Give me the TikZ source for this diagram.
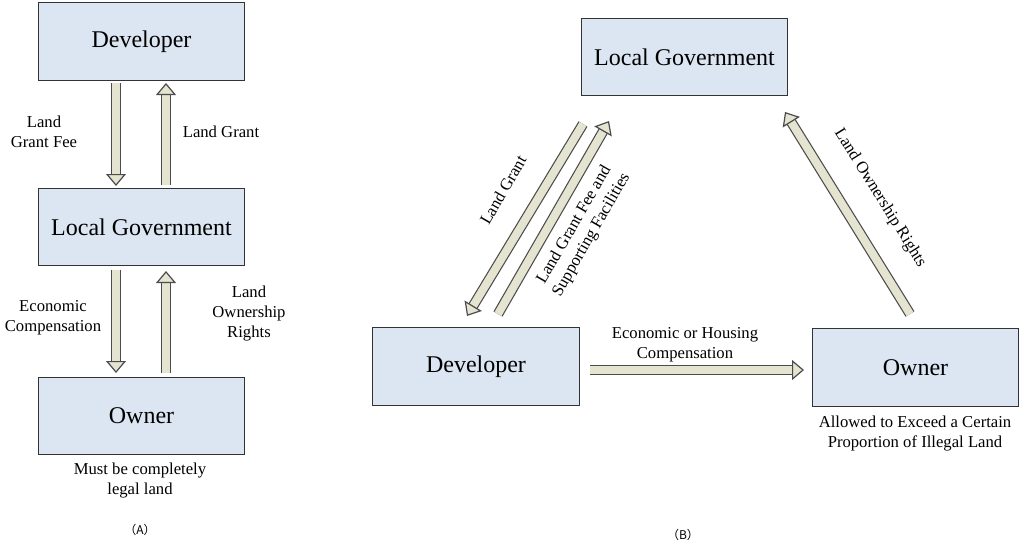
\documentclass[tikz,border=0pt]{standalone}
\usepackage{fontspec}
\setmainfont{Liberation Serif}
\newfontfamily\cjk{Noto Sans CJK SC}
\usetikzlibrary{arrows.meta}
\definecolor{boxfill}{RGB}{220,230,242}
\definecolor{arrfill}{RGB}{228,228,208}
\tikzset{every picture/.style={line width=0.75pt}}
\tikzset{
  box/.style={draw=black!80, fill=boxfill, minimum width=155pt, minimum height=58pt, font=\fontsize{18}{21}\selectfont},
  blk/.style={draw=black!70, double=arrfill, double distance=6pt, line width=0.9pt,
    -{Triangle[open, width=15pt, length=9pt, fill=arrfill]}},
  lbl/.style={font=\fontsize{12.5}{15}\selectfont, align=center, inner sep=0.75pt}
}
\begin{document}
\begin{tikzpicture}[x=0.75pt,y=0.75pt,yscale=-1,xscale=1]
\useasboundingbox (0,0) rectangle (1024,546);

% (A)
\node [box] (devA) at (141.5,41.5) {Developer};
\node [box] (govA) at (141.5,227) {Local Government};
\node [box] (ownA) at (141.5,416) {Owner};
\coordinate (a1) at (116,83);  \coordinate (a2) at (116,186);
\coordinate (a3) at (166,185); \coordinate (a4) at (166,83);
\coordinate (a5) at (116,270); \coordinate (a6) at (116,373);
\coordinate (a7) at (166,373); \coordinate (a8) at (166,271);
\draw [blk] (a1) -- (a2);
\draw [blk] (a3) -- (a4);
\draw [blk] (a5) -- (a6);
\draw [blk] (a7) -- (a8);
\node [lbl] (lgf) at (44,132) {Land\\Grant Fee};
\node [lbl] (lg) at (221,132) {Land Grant};
\node [lbl] (ec) at (53,318) {Economic\\Compensation};
\node [lbl] (lor) at (249,314) {Land\\Ownership\\Rights};
\node [lbl] (capA) at (140,481) {Must be completely\\legal land};
\node [lbl, font=\cjk\small] (tagA) at (140,530) {（A）};

% (B)
\node [box] (govB) at (684.5,57) {Local Government};
\node [box] (devB) at (476,366.5) {Developer};
\node [box] (ownB) at (915.5,367.5) {Owner};
\coordinate (b1) at (583,124); \coordinate (b2) at (467,316);
\coordinate (b3) at (498,314); \coordinate (b4) at (609,121);
\coordinate (b5) at (910,314); \coordinate (b6) at (785,112);
\coordinate (b7) at (590,370); \coordinate (b8) at (804,370);
\draw [blk] (b1) -- (b2);
\draw [blk] (b3) -- (b4);
\draw [blk] (b5) -- (b6);
\draw [blk] (b7) -- (b8);
\node [lbl, rotate=60] (lgB) at (503,190) {Land Grant};
\node [lbl, rotate=60] (lgfB) at (583,230) {Land Grant Fee and\\Supporting Facilities};
\node [lbl, rotate=-58] (lorB) at (880,198) {Land Ownership Rights};
\node [lbl] (ehc) at (685,345) {Economic or Housing\\Compensation};
\node [lbl] (capB) at (915,434) {Allowed to Exceed a Certain\\Proportion of Illegal Land};
\node [lbl, font=\cjk\small] (tagB) at (683,535) {（B）};
\end{tikzpicture}
\end{document}
